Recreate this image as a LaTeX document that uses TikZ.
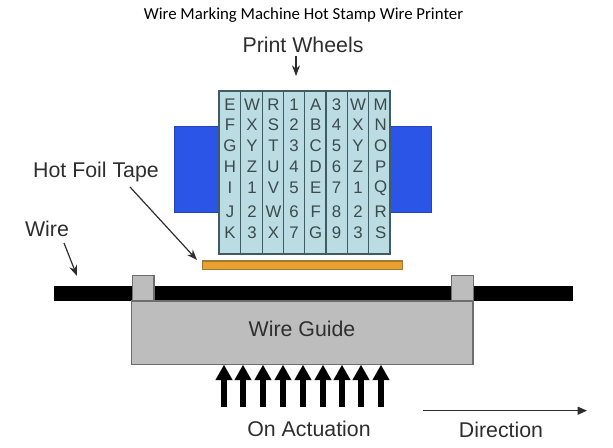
\documentclass[tikz,border=0pt]{standalone}
\usepackage{fontspec}
\setmainfont{Liberation Sans}
\newfontfamily\titlefont{Carlito}
\usetikzlibrary{arrows.meta}
\definecolor{ink}{HTML}{2E2E2E}
\definecolor{glyphink}{HTML}{3C4A4E}
\definecolor{wheelfill}{HTML}{BADCE2}
\definecolor{wheelline}{HTML}{3E5C62}
\definecolor{blockblue}{HTML}{2B55E6}
\definecolor{tapeorange}{HTML}{E9A02F}
\definecolor{tapeline}{HTML}{A07A35}
\definecolor{guidegray}{HTML}{BDBDBD}
\definecolor{guideline}{HTML}{6E6E6E}
\tikzset{
  px/.style={x=0.75pt,y=-0.75pt},
  wheelpart/.style={draw=wheelline,line width=0.9pt,fill=wheelfill},
  blueblock/.style={draw=blockblue!80!black,line width=0.5pt,fill=blockblue},
  tape/.style={draw=tapeline,line width=0.8pt,fill=tapeorange},
  guidepart/.style={draw=guideline,line width=0.8pt,fill=guidegray},
  label/.style={text=ink,font=\fontsize{16}{18}\selectfont,inner sep=0pt},
  glyph/.style={text=glyphink,font=\fontsize{12.6}{14}\selectfont,inner sep=0pt},
  pointer/.style={draw=ink,line width=0.9pt,-{Stealth[length=8pt,width=6pt]}},
  push/.style={draw=black,line width=4pt,-{Triangle[length=11.5pt,width=12pt]}},
}
\begin{document}
\begin{tikzpicture}[px]
\useasboundingbox (0,0) rectangle (613,448);
\node[text=black,font=\titlefont\fontsize{12.6}{15}\selectfont,inner sep=0pt] (title) at (303.5,15) {Wire Marking Machine Hot Stamp Wire Printer};
% side blocks
\path[blueblock] (174.5,126.7) rectangle (219,212);
\path[blueblock] (390,126.7) rectangle (431,212);
% wheels
\foreach \a/\b in {219/240.3,240.3/262.7,262.7/283.3,283.3/304.7,304.7/326,326/347.3,347.3/368.7,368.7/390}
  \path[wheelpart] (\a,91) rectangle (\b,254);
% letters
\foreach \x/\col [count=\c] in {
  230/{E,F,G,H,I,J,K},
  252/{W,X,Y,Z,1,2,3},
  273.5/{R,S,T,U,V,W,X},
  294/{1,2,3,4,5,6,7},
  315.7/{A,B,C,D,E,F,G},
  336.5/{3,4,5,6,7,8,9},
  358/{W,X,Y,Z,1,2,3},
  380.7/{M,N,O,P,Q,R,S}}{
  \foreach \ch [count=\r] in \col {
    \ifcase\r\or\def\yy{105}\or\def\yy{125}\or\def\yy{146}\or\def\yy{166.7}\or\def\yy{188}\or\def\yy{211.7}\or\def\yy{232.7}\fi
    \node[glyph] (g\c-\r) at (\x,\yy) {\ch};
  }
}
% tape, wire, guide
\path[tape] (202.7,261) rectangle (402.7,269.3);
\coordinate (tapetip) at (197,260);
\path[fill=black] (54,286) rectangle (573,301);
\coordinate (wiretip) at (77,276);
\path[guidepart] (131.3,301) rectangle (473,364.7);
\path[guidepart] (132.5,275.7) rectangle (154,301);
\path[guidepart] (451.7,275.7) rectangle (473.7,301);
\coordinate (guidebottom) at (302,364.7);
% labels
\node[label] (pw) at (303,44.5) {Print Wheels};
\node[label] (hft) at (96,172) {Hot Foil Tape};
\node[label] (wire) at (47,229) {Wire};
\node[label] (wg) at (302,328.5) {Wire Guide};
\node[label] (oa) at (309,428.5) {On Actuation};
\node[label] (dir) at (501,429.5) {Direction};
% pointers
\coordinate (wheeltop) at (296,76);
\draw[pointer] (pw.south -| wheeltop) ++(0,3) -- (wheeltop);
\coordinate (hftfoot) at (130,187);
\draw[pointer] (hftfoot) -- (tapetip);
\coordinate (wirefoot) at (64,243);
\draw[pointer] (wirefoot) -- (wiretip);
% actuation arrows
\foreach \x [count=\i] in {224,243,263,283,303,323,342,361,381}{
  \coordinate (a\i) at (\x,406.7);
  \draw[push] (a\i) -- (a\i |- guidebottom);
}
% direction
\coordinate (d1) at (423,410.7);
\coordinate (d2) at (587,410.7);
\draw[draw=ink,line width=0.8pt,-{Triangle[length=7pt,width=6pt]}] (d1) -- (d2);
\end{tikzpicture}
\end{document}
